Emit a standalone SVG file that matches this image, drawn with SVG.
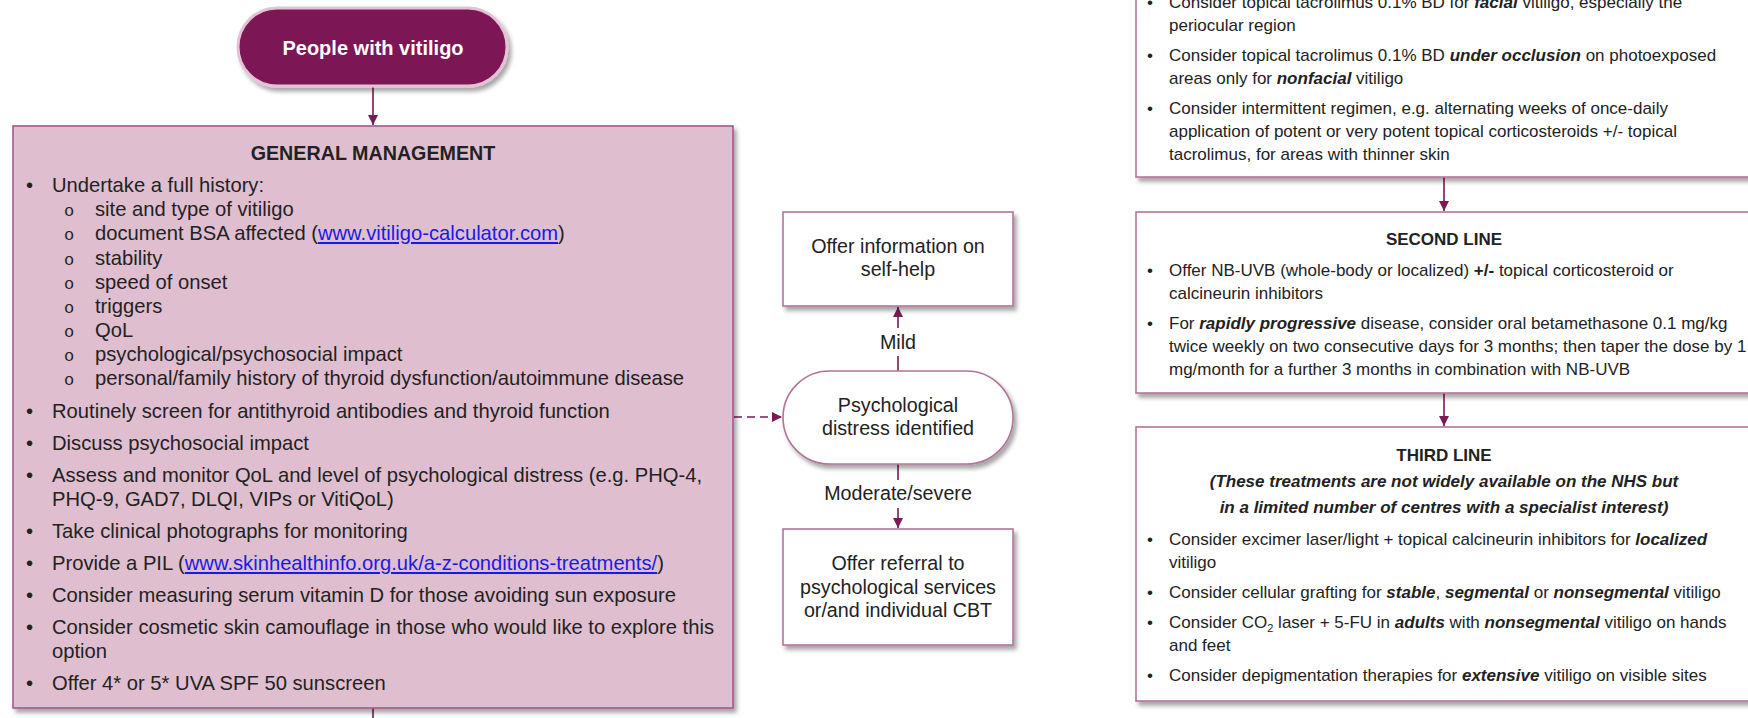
<svg xmlns="http://www.w3.org/2000/svg" width="1748" height="718" viewBox="0 0 1748 718">
<defs>
<style>
.t{font-family:"Liberation Sans",Arial,sans-serif;font-size:19.7px;fill:#222}
.g{font-size:20.2px}
.r{font-family:"Liberation Sans",Arial,sans-serif;font-size:17px;fill:#222}
.c{text-anchor:middle}
.b{font-weight:bold}
.bi{font-weight:bold;font-style:italic}
.lk{fill:#1a1ae6;text-decoration:underline}
.sb{font-family:"Liberation Mono","Courier New",monospace;font-size:17px;fill:#222}
.box{fill:#fff;stroke:#b4739b;stroke-width:1.6}
.gm{fill:#dfbfcf;stroke:#a4588a;stroke-width:1.6}
.ln{fill:none;stroke:#7d1954;stroke-width:1.6}
</style>
<filter id="sh" x="-10%" y="-10%" width="120%" height="130%">
<feDropShadow dx="3" dy="4" stdDeviation="2" flood-color="#000" flood-opacity="0.35"/>
</filter>
<marker id="ah" viewBox="0 0 10 10" refX="10" refY="5" markerWidth="10" markerHeight="10" markerUnits="userSpaceOnUse" orient="auto">
<path d="M0,0 L10,5 L0,10 z" fill="#7d1954"/>
</marker>
</defs>
<rect width="1748" height="718" fill="#fff"/>

<g id="connectors">
<path class="ln" d="M373,87 V125" marker-end="url(#ah)"/>
<path class="ln" d="M373,708 V718"/>
<path class="ln" d="M734,417 H782" stroke-dasharray="8,5" marker-end="url(#ah)"/>
<path class="ln" d="M898,371 V307" marker-end="url(#ah)"/>
<path class="ln" d="M898,464 V528" marker-end="url(#ah)"/>
<path class="ln" d="M1444,177 V211" marker-end="url(#ah)"/>
<path class="ln" d="M1444,393 V426" marker-end="url(#ah)"/>
<rect x="870" y="328" width="56" height="28" fill="#fff"/>
<text class="t c" x="898" y="349">Mild</text>
<rect x="822" y="480" width="152" height="28" fill="#fff"/>
<text class="t c" x="898" y="500">Moderate/severe</text>
</g>

<g id="people">
<rect x="238" y="8" width="269" height="78" rx="39" fill="#7d1954" stroke="#e4c2d6" stroke-width="3" filter="url(#sh)"/>
<text class="t c b" x="373" y="55" style="fill:#fff;font-size:20px">People with vitiligo</text>
</g>

<g id="general-management">
<rect class="gm" x="13" y="126" width="720" height="582" filter="url(#sh)"/>
<text class="t c b" x="373" y="160">GENERAL MANAGEMENT</text>
<g class="t g">
<text x="26" y="192">•</text><text x="52" y="192">Undertake a full history:</text>
</g>
<g class="sb">
<text x="64" y="216">o</text><text x="64" y="240">o</text><text x="64" y="265">o</text><text x="64" y="289">o</text>
<text x="64" y="313">o</text><text x="64" y="337">o</text><text x="64" y="361">o</text><text x="64" y="385">o</text>
</g>
<g class="t g">
<text x="95" y="216">site and type of vitiligo</text>
<text x="95" y="240">document BSA affected (<tspan class="lk">www.vitiligo-calculator.com</tspan>)</text>
<text x="95" y="265">stability</text>
<text x="95" y="289">speed of onset</text>
<text x="95" y="313">triggers</text>
<text x="95" y="337">QoL</text>
<text x="95" y="361">psychological/psychosocial impact</text>
<text x="95" y="385">personal/family history of thyroid dysfunction/autoimmune disease</text>
<text x="26" y="418">•</text><text x="52" y="418">Routinely screen for antithyroid antibodies and thyroid function</text>
<text x="26" y="450">•</text><text x="52" y="450">Discuss psychosocial impact</text>
<text x="26" y="482">•</text><text x="52" y="482">Assess and monitor QoL and level of psychological distress (e.g. PHQ-4,</text>
<text x="52" y="506">PHQ-9, GAD7, DLQI, VIPs or VitiQoL)</text>
<text x="26" y="538">•</text><text x="52" y="538">Take clinical photographs for monitoring</text>
<text x="26" y="570">•</text><text x="52" y="570">Provide a PIL (<tspan class="lk">www.skinhealthinfo.org.uk/a-z-conditions-treatments/</tspan>)</text>
<text x="26" y="602">•</text><text x="52" y="602">Consider measuring serum vitamin D for those avoiding sun exposure</text>
<text x="26" y="634">•</text><text x="52" y="634">Consider cosmetic skin camouflage in those who would like to explore this</text>
<text x="52" y="658">option</text>
<text x="26" y="690">•</text><text x="52" y="690">Offer 4* or 5* UVA SPF 50 sunscreen</text>
</g>
</g>

<g id="self-help">
<rect class="box" x="783" y="212" width="230" height="94" filter="url(#sh)"/>
<text class="t c" x="898" y="253">Offer information on</text>
<text class="t c" x="898" y="276">self-help</text>
</g>

<g id="distress">
<rect class="box" x="783" y="371" width="230" height="93" rx="46.5" filter="url(#sh)"/>
<text class="t c" x="898" y="412">Psychological</text>
<text class="t c" x="898" y="435">distress identified</text>
</g>

<g id="referral">
<rect class="box" x="783" y="529" width="230" height="116" filter="url(#sh)"/>
<text class="t c" x="898" y="570">Offer referral to</text>
<text class="t c" x="898" y="594">psychological services</text>
<text class="t c" x="898" y="617">or/and individual CBT</text>
</g>

<g id="first-line">
<rect class="box" x="1136" y="-20" width="616" height="197" filter="url(#sh)"/>
<g class="r">
<text x="1147" y="8">•</text><text x="1169" y="8">Consider topical tacrolimus 0.1% BD for <tspan class="bi">facial</tspan> vitiligo, especially the</text>
<text x="1169" y="31">periocular region</text>
<text x="1147" y="61">•</text><text x="1169" y="61">Consider topical tacrolimus 0.1% BD <tspan class="bi">under occlusion</tspan> on photoexposed</text>
<text x="1169" y="84">areas only for <tspan class="bi">nonfacial</tspan> vitiligo</text>
<text x="1147" y="114">•</text><text x="1169" y="114">Consider intermittent regimen, e.g. alternating weeks of once-daily</text>
<text x="1169" y="137">application of potent or very potent topical corticosteroids +/- topical</text>
<text x="1169" y="160">tacrolimus, for areas with thinner skin</text>
</g>
</g>

<g id="second-line">
<rect class="box" x="1136" y="212" width="616" height="181" filter="url(#sh)"/>
<g class="r">
<text class="c b" x="1444" y="245">SECOND LINE</text>
<text x="1147" y="276">•</text><text x="1169" y="276">Offer NB-UVB (whole-body or localized) <tspan class="b">+/-</tspan> topical corticosteroid or</text>
<text x="1169" y="299">calcineurin inhibitors</text>
<text x="1147" y="329">•</text><text x="1169" y="329">For <tspan class="bi">rapidly progressive</tspan> disease, consider oral betamethasone 0.1 mg/kg</text>
<text x="1169" y="352">twice weekly on two consecutive days for 3 months; then taper the dose by 1</text>
<text x="1169" y="375">mg/month for a further 3 months in combination with NB-UVB</text>
</g>
</g>

<g id="third-line">
<rect class="box" x="1136" y="427" width="616" height="274" filter="url(#sh)"/>
<g class="r">
<text class="c b" x="1444" y="461">THIRD LINE</text>
<text class="c bi" x="1444" y="487">(These treatments are not widely available on the NHS but</text>
<text class="c bi" x="1444" y="513">in a limited number of centres with a specialist interest)</text>
<text x="1147" y="545">•</text><text x="1169" y="545">Consider excimer laser/light + topical calcineurin inhibitors for <tspan class="bi">localized</tspan></text>
<text x="1169" y="568">vitiligo</text>
<text x="1147" y="598">•</text><text x="1169" y="598">Consider cellular grafting for <tspan class="bi">stable</tspan>, <tspan class="bi">segmental</tspan> or <tspan class="bi">nonsegmental</tspan> vitiligo</text>
<text x="1147" y="628">•</text><text x="1169" y="628">Consider CO<tspan font-size="11" dy="4">2</tspan><tspan dy="-4"> laser + 5-FU in </tspan><tspan class="bi">adults</tspan> with <tspan class="bi">nonsegmental</tspan> vitiligo on hands</text>
<text x="1169" y="651">and feet</text>
<text x="1147" y="681">•</text><text x="1169" y="681">Consider depigmentation therapies for <tspan class="bi">extensive</tspan> vitiligo on visible sites</text>
</g>
</g>
</svg>
